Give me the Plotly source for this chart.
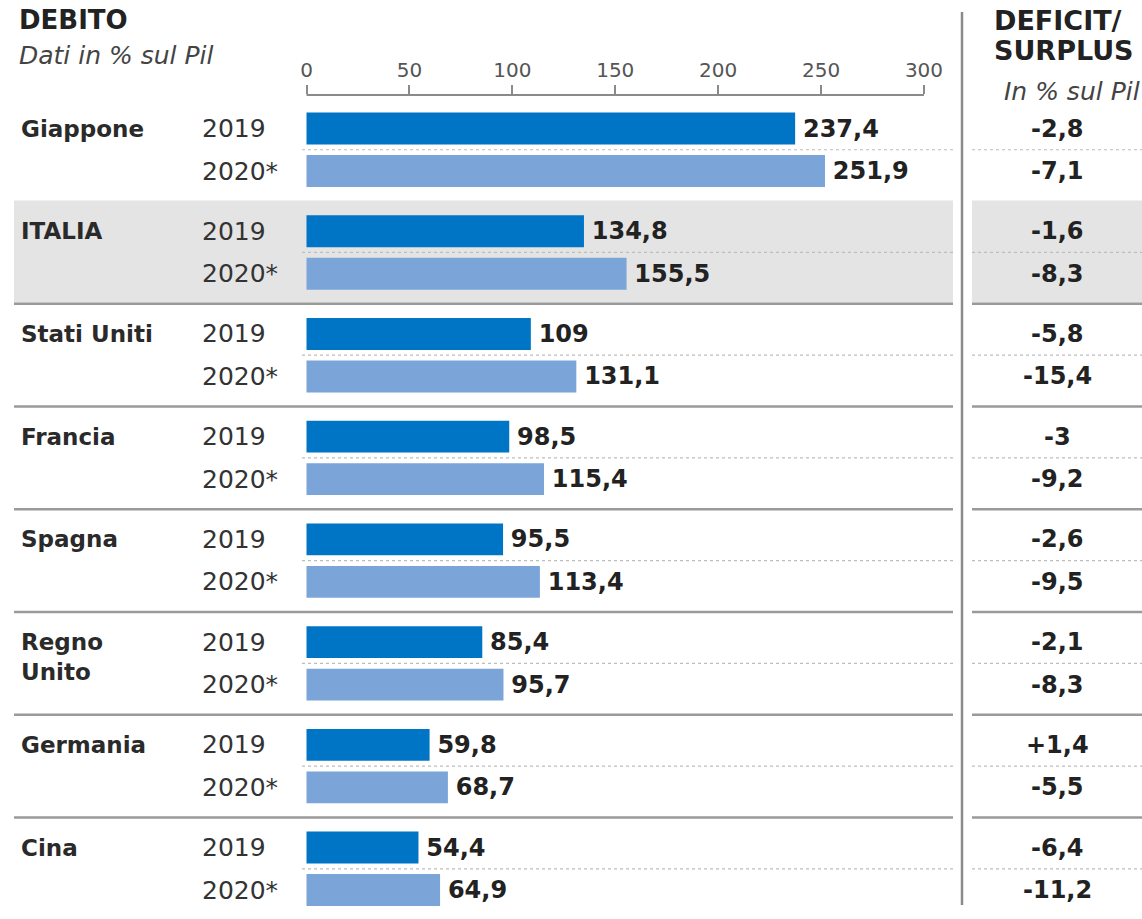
import plotly.graph_objects as go

# ---------------- data ----------------
countries = ["Giappone", "ITALIA", "Stati Uniti", "Francia", "Spagna", "Regno<br>Unito", "Germania", "Cina"]
debt_2019 = [237.4, 134.8, 109, 98.5, 95.5, 85.4, 59.8, 54.4]
debt_2020 = [251.9, 155.5, 131.1, 115.4, 113.4, 95.7, 68.7, 64.9]
deficit_2019 = [-2.8, -1.6, -5.8, -3, -2.6, -2.1, 1.4, -6.4]
deficit_2020 = [-7.1, -8.3, -15.4, -9.2, -9.5, -8.3, -5.5, -11.2]
year_labels = ["2019", "2020*"]
tick_vals = [0, 50, 100, 150, 200, 250, 300]
highlight = "ITALIA"

# ---------------- layout constants ----------------
W, H = 1142, 919
TOP = 95                      # plot-area top (axis line)
PLOT_H = H - TOP
X0_PX, PX_PER_UNIT = 306.5, 2.0583
ROW_PX = 42.5                 # spacing between the two bars of one country
GROUP = 2.417                 # group pitch in row units
Y0_PX = 128.5                 # centre of first bar

FONT = "DejaVu Sans"
DARK = "#0175c5"
LIGHT = "#7ba5d8"
TXT = "#222222"
GRID = "#9a9a9a"

def fmt(v, sign=False):
    s = f"{v:g}".replace(".", ",")
    if sign and v > 0:
        s = "+" + s
    return s

def py(px):            # pixel -> paper y
    return (H - px) / PLOT_H

def pxx(px):           # pixel -> paper x
    return px / W

y19 = [i * GROUP for i in range(len(countries))]
y20 = [i * GROUP + 1 for i in range(len(countries))]

fig = go.Figure()
for xs, ys, col in [(debt_2019, y19, DARK), (debt_2020, y20, LIGHT)]:
    fig.add_trace(go.Bar(
        x=xs, y=ys, orientation="h", width=0.75,
        marker=dict(color=col, line=dict(width=0)),
        text=["<b>\u2009" + fmt(v) + "</b>" for v in xs], textposition="outside",
        textfont=dict(family=FONT, size=24, color=TXT), constraintext="none",
        cliponaxis=False, hoverinfo="skip"))

shapes = []
ann = []

# highlight background (ITALIA)
hi = countries.index(highlight)
for x_a, x_b in [(14, 953), (972, W)]:
    shapes.append(dict(type="rect", xref="paper", yref="y", layer="below",
                       x0=pxx(x_a), x1=pxx(x_b), y0=y19[hi] - 0.72, y1=y20[hi] + 0.68,
                       fillcolor="#e4e4e4", line=dict(width=0)))

# dotted lines between years, solid separators between groups
for i in range(len(countries)):
    ym = y19[i] + 0.5
    for x_a, x_b in [(302, 953), (972, W)]:
        shapes.append(dict(type="line", xref="paper", yref="y", layer="below",
                           x0=pxx(x_a), x1=pxx(x_b), y0=ym, y1=ym,
                           line=dict(color="#bdbdbd", width=1.2, dash="dot")))
    if i >= 2:
        ys = y19[i] - (GROUP - 1) / 2
        for x_a, x_b in [(14, 953), (972, W)]:
            shapes.append(dict(type="line", xref="paper", yref="y",
                               x0=pxx(x_a), x1=pxx(x_b), y0=ys, y1=ys,
                               line=dict(color=GRID, width=2.5)))

# axis line
shapes.append(dict(type="line", xref="x", yref="paper", x0=0, x1=300, y0=1, y1=1,
                   line=dict(color="#8a8a8a", width=2)))
# vertical divider
shapes.append(dict(type="line", xref="paper", yref="paper", x0=pxx(962), x1=pxx(962),
                   y0=py(12), y1=py(905), line=dict(color="#8a8a8a", width=2.5)))

# country labels, year labels, deficit values
for i, c in enumerate(countries):
    yc = y19[i] + (0.36 if "<br>" in c else 0)
    ann.append(dict(text=f"<b>{c}</b>", xref="paper", yref="y", x=pxx(19), y=yc,
                    xanchor="left", yanchor="middle", showarrow=False, align="left",
                    font=dict(family=FONT, size=23, color="#2a2a2a")))
    for yy, yl in zip([y19[i], y20[i]], year_labels):
        ann.append(dict(text=yl, xref="paper", yref="y", x=pxx(200), y=yy,
                        xanchor="left", yanchor="middle", showarrow=False,
                        font=dict(family=FONT, size=25, color="#333333")))
    for yy, dv in zip([y19[i], y20[i]], [deficit_2019[i], deficit_2020[i]]):
        ann.append(dict(text=f"<b>{fmt(dv, sign=True)}</b>", xref="paper", yref="y",
                        x=pxx(1057), y=yy, xanchor="center", yanchor="middle",
                        showarrow=False, font=dict(family=FONT, size=24, color=TXT)))

# headers
ann.append(dict(text="<b>DEBITO</b>", xref="paper", yref="paper", x=pxx(17), y=py(20),
                xanchor="left", yanchor="middle", showarrow=False,
                font=dict(family=FONT, size=26, color=TXT)))
ann.append(dict(text="<i>Dati in % sul Pil</i>", xref="paper", yref="paper", x=pxx(17),
                y=py(56), xanchor="left", yanchor="middle", showarrow=False,
                font=dict(family=FONT, size=25, color="#444444")))
for txt, ypx in [("<b>DEFICIT/</b>", 21), ("<b>SURPLUS</b>", 50)]:
    ann.append(dict(text=txt, xref="paper", yref="paper", x=pxx(992),
                    y=py(ypx), xanchor="left", yanchor="middle", showarrow=False,
                    font=dict(family=FONT, size=27, color=TXT)))
ann.append(dict(text="<i>In % sul Pil</i>", xref="paper", yref="paper", x=pxx(1142),
                y=py(92), xanchor="right", yanchor="middle", showarrow=False,
                font=dict(family=FONT, size=25, color="#444444")))

x_lo = -X0_PX / PX_PER_UNIT
x_hi = (W - X0_PX) / PX_PER_UNIT
y_top = (TOP - Y0_PX) / ROW_PX
y_bot = (H - Y0_PX) / ROW_PX

fig.update_layout(
    width=W, height=H, margin=dict(l=0, r=0, t=TOP, b=0),
    paper_bgcolor="white", plot_bgcolor="white", showlegend=False,
    barmode="overlay", shapes=shapes, annotations=ann,
    xaxis=dict(range=[x_lo, x_hi], side="top", tickvals=tick_vals,
               ticktext=[str(t) for t in tick_vals], ticks="outside", ticklen=9,
               tickwidth=2, tickcolor="#8a8a8a", showgrid=False, zeroline=False,
               showline=False, tickfont=dict(family=FONT, size=20, color="#555555"),
               fixedrange=True),
    yaxis=dict(range=[y_bot, y_top], visible=False, fixedrange=True),
)

fig.write_html("out.html")
